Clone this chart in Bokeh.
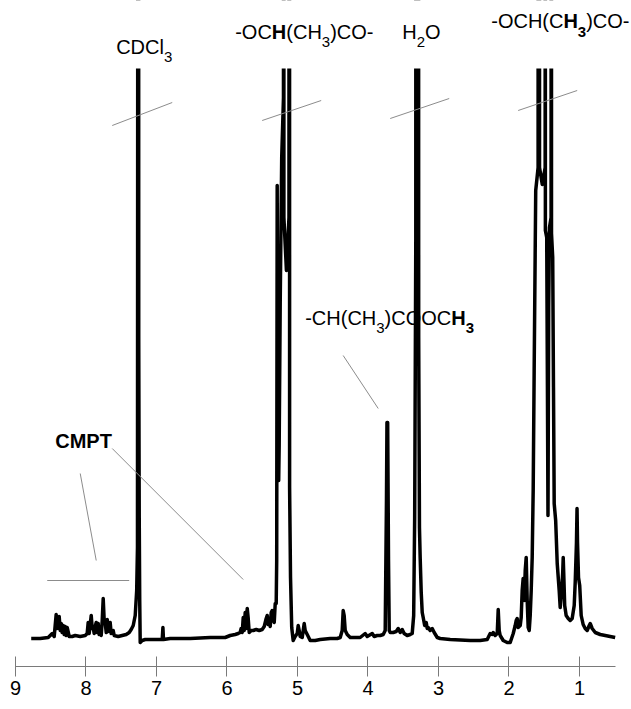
from bokeh.plotting import figure
from bokeh.models import Range1d, FixedTicker, ColumnDataSource, BoxAnnotation
from bokeh.core.properties import value
from bokeh.embed import file_html
from bokeh.resources import INLINE

# chemical shift (ppm) and intensity (a.u.)
ppm = [8.777, 8.650, 8.536, 8.479, 8.451, 8.437, 8.423, 8.409, 8.394, 8.380,
       8.366, 8.352, 8.338, 8.323, 8.309, 8.295, 8.281, 8.267, 8.238, 8.196,
       8.153, 8.082, 8.011, 7.983, 7.969, 7.955, 7.940, 7.926, 7.912, 7.898,
       7.884, 7.870, 7.855, 7.841, 7.827, 7.813, 7.799, 7.784, 7.770, 7.756,
       7.742, 7.728, 7.713, 7.699, 7.685, 7.657, 7.643, 7.614, 7.600, 7.543,
       7.487, 7.430, 7.387, 7.359, 7.330, 7.302, 7.281, 7.270, 7.261, 7.255,
       7.252, 7.245, 7.238, 7.231, 7.203, 7.160, 7.018, 6.919, 6.909, 6.901,
       6.806, 6.522, 6.238, 6.026, 5.955, 5.884, 5.841, 5.813, 5.799, 5.784,
       5.770, 5.756, 5.742, 5.728, 5.713, 5.699, 5.685, 5.657, 5.628, 5.586,
       5.543, 5.501, 5.472, 5.444, 5.430, 5.416, 5.401, 5.387, 5.373, 5.359,
       5.345, 5.330, 5.316, 5.302, 5.295, 5.288, 5.281, 5.267, 5.260, 5.245,
       5.224, 5.199, 5.197, 5.194, 5.193, 5.157, 5.121, 5.119, 5.115, 5.112,
       5.099, 5.082, 5.061, 5.033, 5.004, 4.990, 4.976, 4.962, 4.933, 4.919,
       4.905, 4.891, 4.862, 4.820, 4.749, 4.678, 4.536, 4.437, 4.394, 4.366,
       4.352, 4.338, 4.323, 4.295, 4.252, 4.111, 4.040, 4.011, 3.940, 3.912,
       3.870, 3.827, 3.784, 3.756, 3.738, 3.731, 3.721, 3.709, 3.699, 3.685,
       3.643, 3.600, 3.572, 3.543, 3.515, 3.487, 3.444, 3.401, 3.373, 3.352,
       3.338, 3.322, 3.321, 3.284, 3.281, 3.270, 3.260, 3.245, 3.231, 3.217,
       3.196, 3.174, 3.160, 3.146, 3.118, 3.089, 3.061, 3.018, 2.976, 2.834,
       2.550, 2.409, 2.309, 2.281, 2.267, 2.238, 2.224, 2.196, 2.167, 2.153,
       2.139, 2.125, 2.082, 2.026, 1.983, 1.940, 1.912, 1.898, 1.884, 1.870,
       1.841, 1.827, 1.813, 1.799, 1.784, 1.770, 1.756, 1.742, 1.728, 1.713,
       1.699, 1.685, 1.671, 1.657, 1.643, 1.621, 1.587, 1.586, 1.569, 1.567,
       1.528, 1.487, 1.485, 1.484, 1.465, 1.455, 1.447, 1.437, 1.426, 1.403,
       1.401, 1.399, 1.397, 1.380, 1.369, 1.359, 1.338, 1.316, 1.288, 1.274,
       1.253, 1.238, 1.231, 1.224, 1.210, 1.189, 1.160, 1.132, 1.104, 1.075,
       1.061, 1.043, 1.035, 1.028, 1.014, 0.997, 0.976, 0.948, 0.919, 0.891,
       0.862, 0.848, 0.820, 0.777, 0.706, 0.635, 0.565, 0.494]
intensity = [-1, -1, 0, 4, 1, 12, 23, 9, 19, 21,
             7, 14, 5, 12, 3, 11, 2, 10, 1, 1,
             2, 1, 2, 4, 15, 4, 13, 22, 9, 10,
             4, 11, 15, 5, 14, 3, 8, 2, 17, 39,
             17, 15, 5, 18, 6, 15, 4, 7, 2, 1,
             2, 3, 5, 8, 12, 22, 47, 90, 1400, 1400,
             300, 120, 37, -5, -3, -2, -2, -2, 10, -2,
             -1, -1, 0, 0, 2, 3, 4, 5, 9, 5,
             20, 7, 25, 9, 29, 19, 5, 7, 7, 8,
             7, 8, 11, 19, 22, 13, 19, 11, 25, 27,
             17, 15, 34, 34, 77, 452, 167, 157, 192, 337,
             480, 540, 2500, 2500, 420, 367, 420, 2500, 2500, 150,
             60, 10, -3, 1, 4, 12, 7, 1, 0, 7,
             14, 7, 3, -3, -3, -2, -1, -1, 0, 7,
             27, 22, 7, 3, 0, 0, 4, 1, 4, 1,
             2, 2, 3, 7, 137, 215, 215, 77, 7, 5,
             5, 6, 9, 5, 8, 4, 2, 3, 4, 22,
             120, 400, 1200, 1200, 300, 110, 80, 45, 25, 20,
             12, 15, 9, 10, 7, 9, 5, 0, -1, -2,
             -3, -3, -2, 2, 4, 3, 5, 2, 4, 28,
             7, 2, -3, -5, -5, 4, 12, 17, 19, 10,
             12, 20, 47, 59, 37, 67, 80, 37, 10, 7,
             22, 47, 80, 147, 267, 447, 470, 3000, 3000, 470,
             453, 470, 3000, 407, 400, 250, 122, 330, 410, 420,
             3000, 3000, 404, 380, 250, 134, 117, 74, 47, 30,
             47, 65, 80, 65, 32, 22, 19, 17, 19, 32,
             55, 95, 129, 95, 60, 52, 22, 13, 9, 7,
             12, 14, 9, 5, 3, 2, 1, 0]

tick_values = [1, 2, 3, 4, 5, 6, 7, 8, 9]

# grey guide lines: leaders and axis-break marks (ppm, intensity)
guide_x0 = [8.082, 8.550, 7.628, 4.352, 7.628, 5.501, 3.685, 1.870]
guide_y0 = [164, 57, 189, 282, 512, 517, 519, 527]
guide_x1 = [7.855, 7.387, 5.770, 3.855, 6.777, 4.664, 2.848, 1.033]
guide_y1 = [77, 57, 58, 229, 535, 537, 539, 547]

CLIP_TOP = 569  # spectrum is cut off at this intensity

FONT = "Liberation Sans"

p = figure(width=631, height=709, output_backend="svg", toolbar_location=None,
           x_range=Range1d(9, 0.2624), y_range=Range1d(-29, 637),
           y_axis_location=None,
           min_border_left=15, min_border_right=0,
           min_border_top=0, min_border_bottom=43)
p.title.visible = False
p.outline_line_color = None
p.xgrid.visible = False
p.ygrid.visible = False
p.background_fill_color = "white"
p.border_fill_color = "white"

ax = p.xaxis[0]
ax.ticker = FixedTicker(ticks=tick_values)
ax.bounds = (0.49, 9)
ax.axis_line_color = "#7a7a7a"
ax.axis_line_width = 1
ax.major_tick_line_color = "#7a7a7a"
ax.major_tick_in = 10
ax.major_tick_out = 10
ax.minor_tick_line_color = None
ax.major_label_text_font = FONT
ax.major_label_text_font_size = "20px"
ax.major_label_text_color = "black"
ax.major_label_standoff = 4

src = ColumnDataSource(dict(x=ppm, y=intensity))
spec = p.line("x", "y", source=src, line_color="black", line_width=3.5,
              line_join="round")
spec.level = "underlay"

p.segment(x0=guide_x0, y0=guide_y0, x1=guide_x1, y1=guide_y1,
          line_color="#8c8c8c", line_width=1)

# white mask above the cut-off level of the truncated peaks
p.add_layout(BoxAnnotation(bottom=CLIP_TOP, top=100000, left=20, right=-20,
                           fill_color="white", fill_alpha=1.0,
                           line_color=None, level="glyph"))

# text labels built from pieces: (text, dx px, dy, size, bold)
labels = [
    (7.572, 591, [("CDCl", 0, 0, 20, False), ("3", 47.8, -10, 15, False)]),
    (5.884, 606, [("-OC", 0, 0, 20, False), ("H", 36.66, 0, 20, True),
                  ("(CH", 51.1, 0, 20, False), ("3", 86.64, -10, 15, False),
                  (")CO-", 94.98, 0, 20, False)]),
    (3.515, 606, [("H", 0, 0, 20, False), ("2", 14.44, -10, 15, False),
                  ("O", 22.78, 0, 20, False)]),
    (2.252, 617, [("-OCH(C", 0, 0, 20, False), ("H", 72.2, 0, 20, True),
                  ("3", 86.64, -11, 15, True), (")CO-", 94.98, 0, 20, False)]),
    (4.891, 320, [("-CH(CH", 0, 0, 20, False), ("3", 71.08, -10, 15, False),
                  (")COOC", 79.42, 0, 20, False), ("H", 146.08, 0, 20, True),
                  ("3", 160.52, -10, 15, True)]),
    (8.437, 197, [("CMPT", 0, 0, 20, True)]),
]
cols = dict(x=[], y=[], dx=[], text=[], size=[], style=[])
for lx, ly, pieces in labels:
    for txt, dx, dy, size, bold in pieces:
        cols["x"].append(lx)
        cols["y"].append(ly + dy)
        cols["dx"].append(dx)
        cols["text"].append(txt)
        cols["size"].append(f"{size}px")
        cols["style"].append("bold" if bold else "normal")

tr = p.text(x="x", y="y", text="text", x_offset="dx", source=ColumnDataSource(cols),
            text_font=value(FONT), text_font_size="size", text_font_style="style",
            text_color="black", text_align="left", text_baseline="alphabetic")
tr.level = "annotation"

open("out.html", "w").write(file_html(p, INLINE))
